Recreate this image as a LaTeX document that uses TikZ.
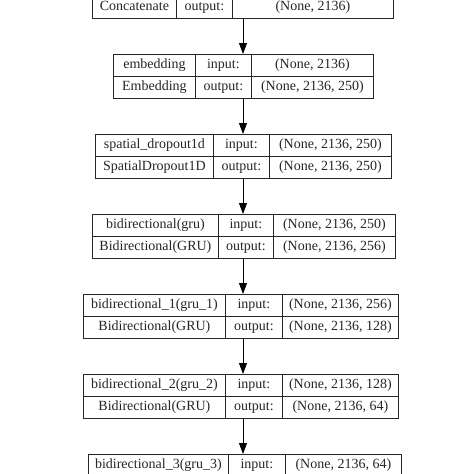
\documentclass[tikz,border=0pt]{standalone}
\usepackage{fontspec}
\setmainfont{Liberation Serif}
\usetikzlibrary{arrows.meta}

\begin{document}
\begin{tikzpicture}[x=1pt,y=-1pt,line width=0.8pt,
    cell/.style={draw=black!85,inner sep=0pt,minimum height=22pt,text height=10pt,text depth=3pt,anchor=north west,text=black!85,font=\fontsize{14}{16}\selectfont},
    flow/.style={-{Triangle[width=8pt,length=11pt]},line width=0.8pt,black}]

    \useasboundingbox[fill=white] (0,0) rectangle (474,474);

    \node[cell,minimum width=84pt] (cl0) at (92,-4) {Concatenate};
    \node[cell,minimum width=56pt] (lo0) at (176,-4) {output:};
    \node[cell,minimum width=161pt] (so0) at (232,-4) {(None, 2136)};
    \coordinate (bot0) at (243,18);

    \foreach \i/\xa/\xb/\xc/\xd/\lname/\lclass/\ishape/\oshape [
        evaluate = \i as \ytop using {54+80*(\i-1)},
        evaluate = \i as \ymid using {76+80*(\i-1)},
        evaluate = \i as \ybot using {98+80*(\i-1)},
        evaluate = \xb as \wa using {\xb-\xa},
        evaluate = \xc as \wb using {\xc-\xb},
        evaluate = \xd as \wc using {\xd-\xc},
    ] in {
        1/113/195/251/373/embedding/Embedding/{(None, 2136)}/{(None, 2136, 250)},
        2/95/213/269/391/spatial\_dropout1d/SpatialDropout1D/{(None, 2136, 250)}/{(None, 2136, 250)},
        3/92/218/273/395/bidirectional(gru)/Bidirectional(GRU)/{(None, 2136, 250)}/{(None, 2136, 256)},
        4/83/225/282/398/bidirectional\_1(gru\_1)/Bidirectional(GRU)/{(None, 2136, 256)}/{(None, 2136, 128)},
        5/83/225/282/398/bidirectional\_2(gru\_2)/Bidirectional(GRU)/{(None, 2136, 128)}/{(None, 2136, 64)}
    }{
        \node[cell,minimum width=\wa pt] (nm\i) at (\xa,\ytop) {\lname};
        \node[cell,minimum width=\wa pt] (cl\i) at (\xa,\ymid) {\lclass};
        \node[cell,minimum width=\wb pt] (li\i) at (\xb,\ytop) {input:};
        \node[cell,minimum width=\wb pt] (lo\i) at (\xb,\ymid) {output:};
        \node[cell,minimum width=\wc pt] (si\i) at (\xc,\ytop) {\ishape};
        \node[cell,minimum width=\wc pt] (so\i) at (\xc,\ymid) {\oshape};
        \coordinate (top\i) at (243,\ytop);
        \coordinate (bot\i) at (243,\ybot);
    }

    \node[cell,minimum width=140pt] (nm6) at (88,454) {bidirectional\_3(gru\_3)};
    \node[cell,minimum width=57pt] (li6) at (228,454) {input:};
    \node[cell,minimum width=116pt] (si6) at (285,454) {(None, 2136, 64)};
    \coordinate (top6) at (243,454);

    \foreach \curr [
        evaluate = \curr as \prev using {int(\curr-1)},
    ] in {1,...,6}{
        \draw[flow] (bot\prev) -- (top\curr);
    }

\end{tikzpicture}
\end{document}
